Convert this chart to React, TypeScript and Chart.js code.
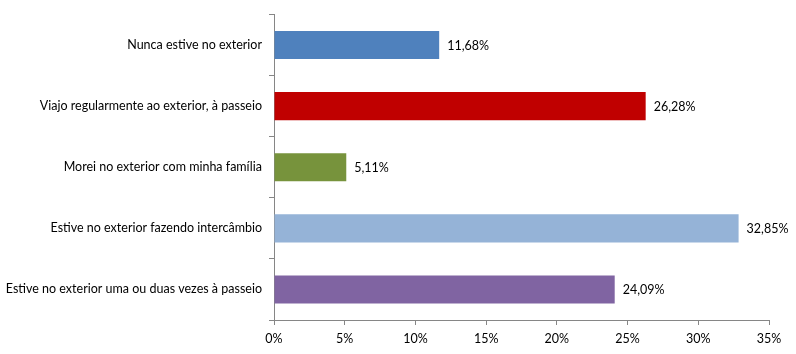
import React, { useEffect, useRef } from "react";
import { Chart, registerables } from "chart.js";

Chart.register(...registerables);

const categories = [
  "Nunca estive no exterior",
  "Viajo regularmente ao exterior, à passeio",
  "Morei no exterior com minha família",
  "Estive no exterior fazendo intercâmbio",
  "Estive no exterior uma ou duas vezes à passeio",
];
const values = [11.68, 26.28, 5.11, 32.85, 24.09];
const barColors = ["#4F81BD", "#C00000", "#77933C", "#95B3D7", "#8064A2"];
const xMin = 0;
const xMax = 35;
const xStep = 5;

const FONT = "Lato, 'Liberation Sans', sans-serif";
const fmt = (v: number) => v.toFixed(2).replace(".", ",") + "%";

const valueLabels = {
  id: "valueLabels",
  afterDatasetsDraw(chart: any) {
    const ctx = chart.ctx;
    const meta = chart.getDatasetMeta(0);
    ctx.save();
    ctx.font = `12.5px ${FONT}`;
    ctx.fillStyle = "#000";
    ctx.textAlign = "left";
    ctx.textBaseline = "middle";
    meta.data.forEach((bar: any, i: number) => {
      ctx.fillText(fmt(values[i]), bar.x + 8, bar.y + 1);
    });
    ctx.restore();
  },
};

export default function App() {
  const ref = useRef<HTMLCanvasElement>(null);
  useEffect(() => {
    const chart = new Chart(ref.current!, {
      type: "bar",
      data: {
        labels: categories,
        datasets: [
          {
            data: values,
            backgroundColor: barColors,
            barPercentage: 0.46,
            categoryPercentage: 1,
          },
        ],
      },
      options: {
        indexAxis: "y",
        animation: false,
        responsive: false,
        maintainAspectRatio: false,
        layout: { padding: { top: 14, right: 27, left: 0, bottom: 0 } },
        plugins: { legend: { display: false }, tooltip: { enabled: false } },
        scales: {
          x: {
            min: xMin,
            max: xMax,
            ticks: {
              stepSize: xStep,
              callback: (v: any) => v + "%",
              color: "#000",
              font: { family: FONT, size: 12.5 },
              padding: 6,
            },
            grid: {
              drawOnChartArea: false,
              color: "#868686",
              tickLength: 5,
            },
            border: { color: "#868686", width: 1 },
            afterFit: (s: any) => {
              s.height = 34;
            },
          },
          y: {
            ticks: {
              color: "#000",
              font: { family: FONT, size: 12.5 },
              padding: 7,
            },
            grid: {
              drawOnChartArea: false,
              color: "#868686",
              tickLength: 5,
              offset: true,
            },
            border: { color: "#868686", width: 1 },
            afterFit: (s: any) => {
              s.width = 274;
            },
          },
        },
      },
      plugins: [valueLabels],
    });
    return () => chart.destroy();
  }, []);
  return (
    <div style={{ position: "fixed", left: 0, top: 0, width: 796, height: 354, background: "#fff" }}>
      <canvas ref={ref} width={796} height={354} style={{ width: 796, height: 354 }} />
    </div>
  );
}
